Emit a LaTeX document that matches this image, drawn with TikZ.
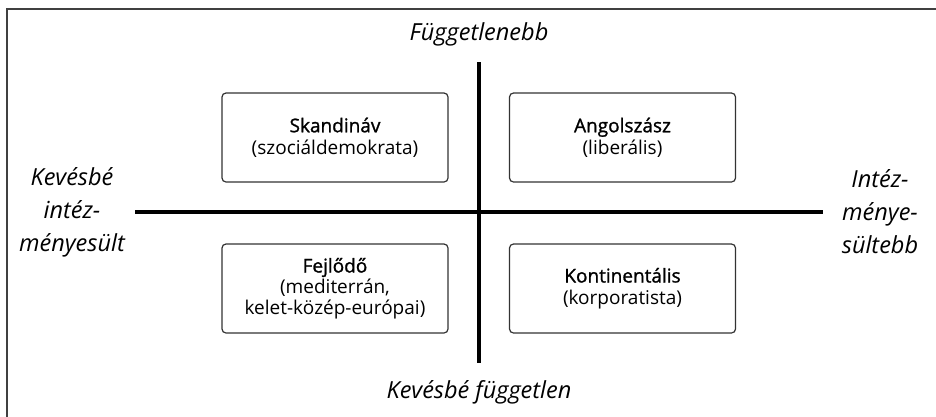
\documentclass[tikz,border=0pt]{standalone}
\usepackage{fontspec}
\setmainfont{Open Sans}
\newfontfamily\semibfont[FakeBold=1.2]{Open Sans}
\newcommand{\boxtitle}[1]{{\semibfont\fontsize{19}{23}\selectfont #1}}
\begin{document}
\begin{tikzpicture}[x=1pt,y=-1pt,
  typebox/.style={draw=black!80, line width=1.2pt, rounded corners=4pt, fill=white,
    align=center, inner sep=0pt, font=\fontsize{19}{21}\selectfont},
  wide/.style={minimum width=226pt, minimum height=89pt},
  axisline/.style={line width=3.4pt, black},
  axislabel/.style={font=\fontsize{23.5}{33}\selectfont\itshape, align=center, inner sep=0pt}]
  \useasboundingbox (0,0) rectangle (936,416);
  \begin{scope}
    \clip (0,0) rectangle (936,416);
    \draw[black!75, line width=1.6pt] (7,9) rectangle (945,430);
  \end{scope}

  % axes
  \coordinate (top) at (479,62);
  \coordinate (bot) at (479,363);
  \coordinate (lft) at (135,212);
  \coordinate (rgt) at (823,212);
  \draw[axisline] (top) -- (bot);
  \draw[axisline] (lft) -- (rgt);

  % quadrant boxes
  \node[typebox, wide] (skand) at (335,137.5)
    {\boxtitle{Skandináv}\\[1pt] (szociáldemokrata)};
  \node[typebox, wide] (angol) at (622.5,137.5)
    {\boxtitle{Angolszász}\\[1pt] (liberális)};
  \node[typebox, wide] (fejl) at (335,288.5)
    {\boxtitle{Fejlődő}\\[0pt] (mediterrán,\\ kelet-közép-európai)};
  \node[typebox, wide] (kont) at (622.5,288.5)
    {\boxtitle{Kontinentális}\\[1pt] (korporatista)};

  % axis labels
  \node[axislabel] (north) at (479,34) {Függetlenebb};
  \node[axislabel] (south) at (479,392) {Kevésbé független};
  \node[axislabel] (west) at (72,212) {Kevésbé\\intéz-\\ményesült};
  \node[axislabel] (east) at (880,212) {Intéz-\\ménye-\\sültebb};
\end{tikzpicture}
\end{document}
